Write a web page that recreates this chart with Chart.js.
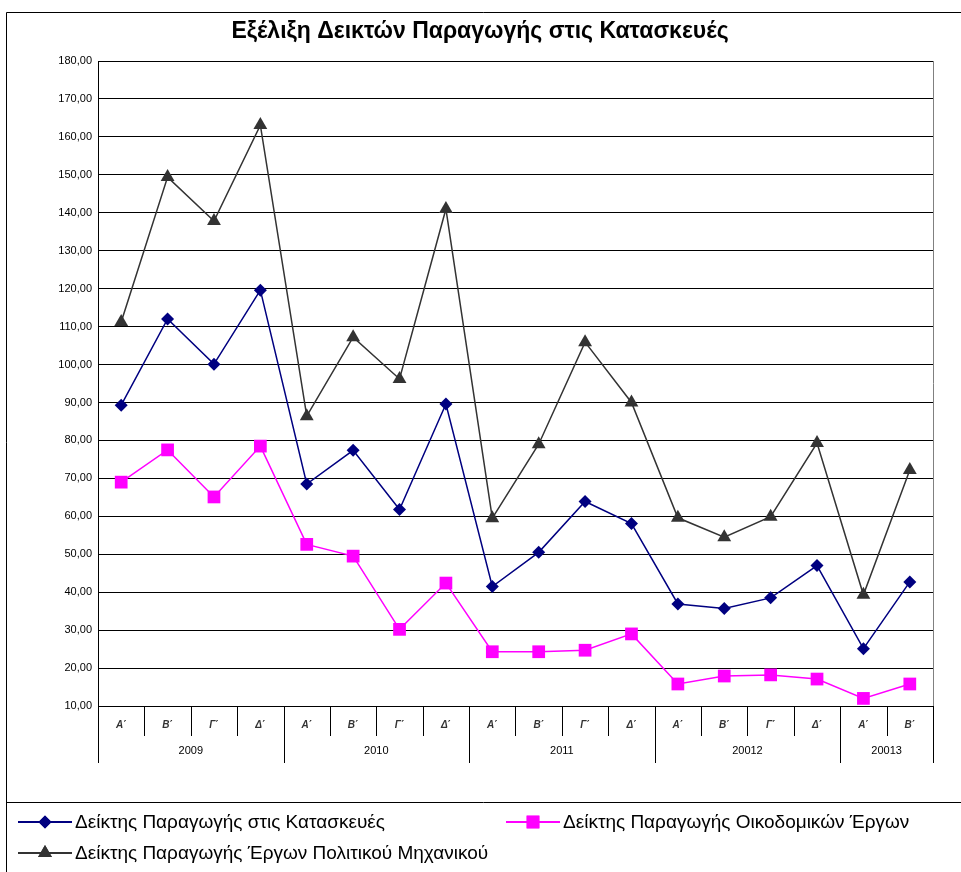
<!DOCTYPE html>
<html lang="el">
<head>
<meta charset="UTF-8">
<title>Εξέλιξη Δεικτών Παραγωγής στις Κατασκευές</title>
<script src="https://cdn.jsdelivr.net/npm/chart.js"></script>
<style>
    html, body { margin: 0; padding: 0; background: #fff; }
    #wrap { width: 961px; height: 872px; position: relative; }
</style>
</head>
<body>
<div id="wrap"><canvas id="chart" width="961" height="872"></canvas></div>
<script>
// data
const quarters = ['Α΄', 'Β΄', 'Γ΄', 'Δ΄', 'Α΄', 'Β΄', 'Γ΄', 'Δ΄', 'Α΄', 'Β΄', 'Γ΄', 'Δ΄', 'Α΄', 'Β΄', 'Γ΄', 'Δ΄', 'Α΄', 'Β΄'];
const years = ['2009', '2010', '2011', '20012', '20013'];
const yearSpans = [4, 4, 4, 4, 2];

const constructionIdx = [89.3, 112.0, 100.1, 119.6, 68.5, 77.4, 61.8, 89.6, 41.5, 50.5, 63.9, 58.1, 36.9, 35.7, 38.5, 47.0, 25.1, 42.7];
const buildingIdx = [69.0, 77.5, 65.1, 78.5, 52.6, 49.5, 30.2, 42.4, 24.3, 24.3, 24.7, 29.0, 15.8, 17.9, 18.2, 17.1, 12.0, 15.8];
const civilEngIdx = [111.2, 149.4, 137.8, 163.1, 86.4, 107.2, 96.2, 141.0, 59.5, 79.0, 105.9, 90.0, 59.6, 54.5, 59.9, 79.3, 39.3, 72.2];

const yMin = 10, yMax = 180, yStep = 10;

const FONT = 'Arial, "Liberation Sans", sans-serif';

const series = [
    { label: 'Δείκτης Παραγωγής στις Κατασκευές', data: constructionIdx, color: '#000080', style: 'rectRot', r: 6.5 },
    { label: 'Δείκτης Παραγωγής Οικοδομικών Έργων', data: buildingIdx, color: '#ff00ff', style: 'rect', r: 9 },
    { label: 'Δείκτης Παραγωγής Έργων Πολιτικού Μηχανικού', data: civilEngIdx, color: '#333333', style: 'triangle', r: 8 }
];

// title, frame, two level category axis and legend
const decor = {
    id: 'decor',
    afterDraw(chart) {
        const ctx = chart.ctx;
        const area = chart.chartArea;
        const xs = chart.scales.x;
        ctx.save();

        // outer frame
        ctx.strokeStyle = '#000';
        ctx.lineWidth = 1;
        ctx.beginPath();
        ctx.moveTo(6.5, 872);
        ctx.lineTo(6.5, 12.5);
        ctx.lineTo(961, 12.5);
        ctx.stroke();

        // title
        ctx.fillStyle = '#000';
        ctx.font = 'bold 23px ' + FONT;
        ctx.textAlign = 'center';
        ctx.textBaseline = 'middle';
        ctx.fillText('Εξέλιξη Δεικτών Παραγωγής στις Κατασκευές', 480, 32);

        // plot right border
        ctx.strokeStyle = '#808080';
        ctx.beginPath();
        ctx.moveTo(Math.round(area.right) + 0.5, area.top);
        ctx.lineTo(Math.round(area.right) + 0.5, area.bottom);
        ctx.stroke();

        // category separators and labels
        const step = xs.getPixelForValue(1) - xs.getPixelForValue(0);
        const start = xs.getPixelForValue(0) - step / 2;
        const yearEdges = [0];
        yearSpans.forEach(s => yearEdges.push(yearEdges[yearEdges.length - 1] + s));
        ctx.strokeStyle = '#000';
        for (let i = 0; i <= quarters.length; i++) {
            const x = Math.round(start + i * step) + 0.5;
            const full = yearEdges.includes(i);
            ctx.beginPath();
            ctx.moveTo(x, area.bottom);
            ctx.lineTo(x, area.bottom + (full ? 57 : 30));
            ctx.stroke();
        }
        ctx.fillStyle = '#333';
        ctx.font = 'italic bold 10px ' + FONT;
        quarters.forEach((q, i) => {
            ctx.fillText(q, xs.getPixelForValue(i), area.bottom + 19);
        });
        ctx.fillStyle = '#000';
        ctx.font = '11px ' + FONT;
        years.forEach((y, k) => {
            const a = start + yearEdges[k] * step;
            const b = start + yearEdges[k + 1] * step;
            ctx.fillText(y, (a + b) / 2, area.bottom + 45);
        });

        // legend
        ctx.strokeStyle = '#000';
        ctx.beginPath();
        ctx.moveTo(6, 802.5);
        ctx.lineTo(961, 802.5);
        ctx.stroke();
        const spots = [[18, 822], [506, 822], [18, 853]];
        ctx.textAlign = 'left';
        ctx.font = '19px ' + FONT;
        series.forEach((s, i) => {
            const [lx, ly] = spots[i];
            ctx.strokeStyle = s.color;
            ctx.lineWidth = 2;
            ctx.beginPath();
            ctx.moveTo(lx, ly);
            ctx.lineTo(lx + 54, ly);
            ctx.stroke();
            ctx.fillStyle = s.color;
            Chart.helpers.drawPoint(ctx, { pointStyle: s.style, radius: s.r, borderWidth: 0, rotation: 0 }, lx + 27, ly);
            ctx.fill();
            ctx.fillStyle = '#000';
            ctx.fillText(s.label, lx + 57, ly + 1);
        });
        ctx.restore();
    }
};

new Chart(document.getElementById('chart'), {
    type: 'line',
    data: {
        labels: quarters,
        datasets: series.map(s => ({
            label: s.label,
            data: s.data,
            borderColor: s.color,
            backgroundColor: s.color,
            borderWidth: 1.5,
            pointStyle: s.style,
            pointRadius: s.r,
            pointHoverRadius: s.r,
            pointBorderWidth: 0,
            tension: 0,
            fill: false
        }))
    },
    options: {
        responsive: false,
        animation: false,
        events: [],
        layout: { padding: { top: 61, left: 0, right: 28, bottom: 166 } },
        plugins: {
            legend: { display: false },
            title: { display: false },
            tooltip: { enabled: false }
        },
        scales: {
            x: { type: 'category', display: false, offset: true },
            y: {
                min: yMin,
                max: yMax,
                afterFit(scale) { scale.width = 98; },
                border: { display: true, color: '#000', width: 1 },
                grid: { color: '#000', lineWidth: 1, drawTicks: false },
                ticks: {
                    stepSize: yStep,
                    padding: 6,
                    color: '#000',
                    font: { family: FONT, size: 11 },
                    callback: v => v.toFixed(2).replace('.', ',')
                }
            }
        }
    },
    plugins: [decor]
});
</script>
</body>
</html>
